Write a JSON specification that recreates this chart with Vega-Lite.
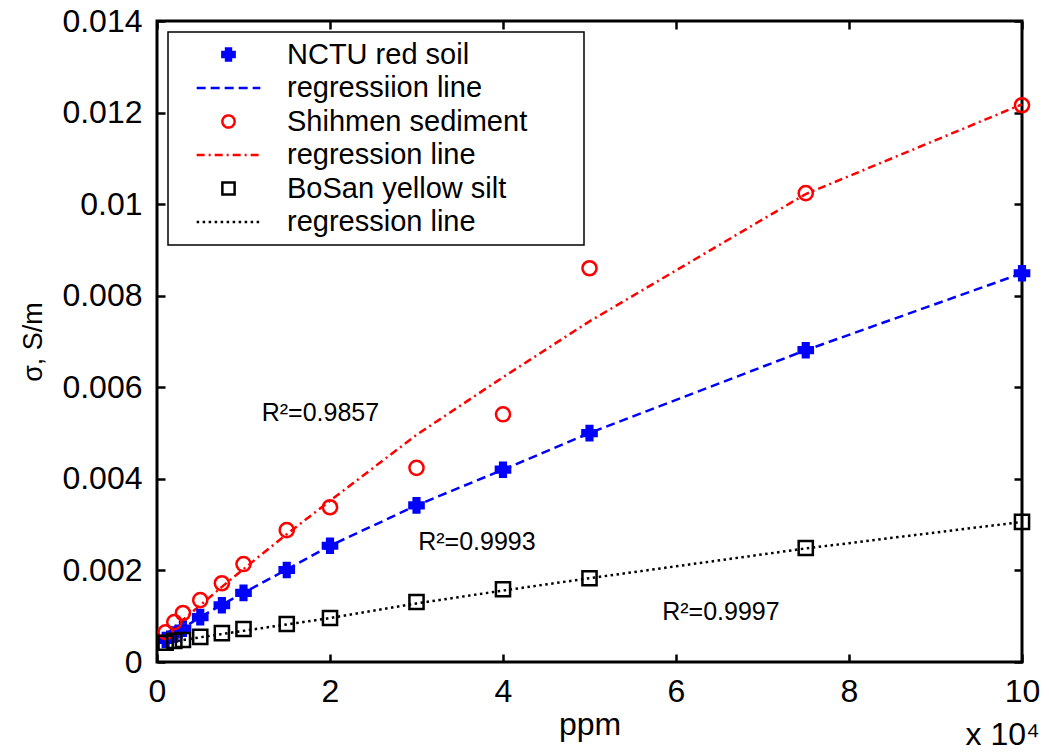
{
  "$schema": "https://vega.github.io/schema/vega-lite/v6.json",
  "width": 865,
  "height": 641,
  "autosize": "none",
  "padding": {"left": 157, "top": 21, "right": 27, "bottom": 91},
  "background": "white",
  "config": {
    "font": "Liberation Sans",
    "view": {"stroke": "black", "strokeWidth": 3},
    "axis": {
      "domain": false, "grid": false, "ticks": true, "tickSize": -8, "tickWidth": 2.5, "tickColor": "black",
      "labelFont": "Liberation Sans", "labelFontSize": 32, "labelColor": "black", "labelFlush": false,
      "titleFont": "Liberation Sans", "titleFontWeight": "normal", "titleColor": "black"
    },
    "legend": {
      "orient": "top-left", "offset": 11, "padding": 8,
      "strokeColor": "black", "strokeWidth": 1.5, "fillColor": "white",
      "labelFont": "Liberation Sans", "labelFontSize": 29, "labelColor": "black", "labelLimit": 600,
      "symbolSize": 150, "symbolStrokeWidth": 2.5, "symbolOffset": 38, "labelOffset": 44, "rowPadding": 3.5
    }
  },
  "title": {"text": "x 10⁴", "orient": "bottom", "anchor": "end", "fontSize": 32, "fontWeight": "normal", "font": "Liberation Sans", "color": "black", "offset": -20},
  "datasets": {
    "points": [
      {"ppm": 0.1, "sigma": 0.00048, "key": "NCTU red soil"},
      {"ppm": 0.2, "sigma": 0.00060, "key": "NCTU red soil"},
      {"ppm": 0.3, "sigma": 0.00073, "key": "NCTU red soil"},
      {"ppm": 0.5, "sigma": 0.00098, "key": "NCTU red soil"},
      {"ppm": 0.75, "sigma": 0.00124, "key": "NCTU red soil"},
      {"ppm": 1, "sigma": 0.00151, "key": "NCTU red soil"},
      {"ppm": 1.5, "sigma": 0.00201, "key": "NCTU red soil"},
      {"ppm": 2, "sigma": 0.00254, "key": "NCTU red soil"},
      {"ppm": 3, "sigma": 0.00342, "key": "NCTU red soil"},
      {"ppm": 4, "sigma": 0.00420, "key": "NCTU red soil"},
      {"ppm": 5, "sigma": 0.00500, "key": "NCTU red soil"},
      {"ppm": 7.5, "sigma": 0.00681, "key": "NCTU red soil"},
      {"ppm": 10, "sigma": 0.00849, "key": "NCTU red soil"},
      {"ppm": 0.1, "sigma": 0.00065, "key": "Shihmen sediment"},
      {"ppm": 0.2, "sigma": 0.00087, "key": "Shihmen sediment"},
      {"ppm": 0.3, "sigma": 0.00107, "key": "Shihmen sediment"},
      {"ppm": 0.5, "sigma": 0.00135, "key": "Shihmen sediment"},
      {"ppm": 0.75, "sigma": 0.00172, "key": "Shihmen sediment"},
      {"ppm": 1, "sigma": 0.00214, "key": "Shihmen sediment"},
      {"ppm": 1.5, "sigma": 0.00288, "key": "Shihmen sediment"},
      {"ppm": 2, "sigma": 0.00338, "key": "Shihmen sediment"},
      {"ppm": 3, "sigma": 0.00424, "key": "Shihmen sediment"},
      {"ppm": 4, "sigma": 0.00541, "key": "Shihmen sediment"},
      {"ppm": 5, "sigma": 0.00860, "key": "Shihmen sediment"},
      {"ppm": 7.5, "sigma": 0.01024, "key": "Shihmen sediment"},
      {"ppm": 10, "sigma": 0.01216, "key": "Shihmen sediment"},
      {"ppm": 0.1, "sigma": 0.00042, "key": "BoSan yellow silt"},
      {"ppm": 0.2, "sigma": 0.00046, "key": "BoSan yellow silt"},
      {"ppm": 0.3, "sigma": 0.00048, "key": "BoSan yellow silt"},
      {"ppm": 0.5, "sigma": 0.00055, "key": "BoSan yellow silt"},
      {"ppm": 0.75, "sigma": 0.00063, "key": "BoSan yellow silt"},
      {"ppm": 1, "sigma": 0.00072, "key": "BoSan yellow silt"},
      {"ppm": 1.5, "sigma": 0.00083, "key": "BoSan yellow silt"},
      {"ppm": 2, "sigma": 0.00096, "key": "BoSan yellow silt"},
      {"ppm": 3, "sigma": 0.00131, "key": "BoSan yellow silt"},
      {"ppm": 4, "sigma": 0.00159, "key": "BoSan yellow silt"},
      {"ppm": 5, "sigma": 0.00183, "key": "BoSan yellow silt"},
      {"ppm": 7.5, "sigma": 0.00249, "key": "BoSan yellow silt"},
      {"ppm": 10, "sigma": 0.00306, "key": "BoSan yellow silt"}
    ],
    "fits": [
      {"ppm": 0.1, "sigma": 0.00050, "key": "NCTU fit"},
      {"ppm": 0.2, "sigma": 0.00062, "key": "NCTU fit"},
      {"ppm": 0.3, "sigma": 0.00074, "key": "NCTU fit"},
      {"ppm": 0.5, "sigma": 0.00098, "key": "NCTU fit"},
      {"ppm": 0.75, "sigma": 0.00125, "key": "NCTU fit"},
      {"ppm": 1, "sigma": 0.00151, "key": "NCTU fit"},
      {"ppm": 1.5, "sigma": 0.00202, "key": "NCTU fit"},
      {"ppm": 2, "sigma": 0.00254, "key": "NCTU fit"},
      {"ppm": 3, "sigma": 0.00342, "key": "NCTU fit"},
      {"ppm": 4, "sigma": 0.00420, "key": "NCTU fit"},
      {"ppm": 5, "sigma": 0.00500, "key": "NCTU fit"},
      {"ppm": 7.5, "sigma": 0.00681, "key": "NCTU fit"},
      {"ppm": 10, "sigma": 0.00849, "key": "NCTU fit"},
      {"ppm": 0.1, "sigma": 0.00060, "key": "Shihmen fit"},
      {"ppm": 0.2, "sigma": 0.00076, "key": "Shihmen fit"},
      {"ppm": 0.3, "sigma": 0.00092, "key": "Shihmen fit"},
      {"ppm": 0.5, "sigma": 0.00124, "key": "Shihmen fit"},
      {"ppm": 0.75, "sigma": 0.00164, "key": "Shihmen fit"},
      {"ppm": 1, "sigma": 0.00203, "key": "Shihmen fit"},
      {"ppm": 1.5, "sigma": 0.00279, "key": "Shihmen fit"},
      {"ppm": 2, "sigma": 0.00352, "key": "Shihmen fit"},
      {"ppm": 3, "sigma": 0.00496, "key": "Shihmen fit"},
      {"ppm": 4, "sigma": 0.00622, "key": "Shihmen fit"},
      {"ppm": 5, "sigma": 0.00744, "key": "Shihmen fit"},
      {"ppm": 7.5, "sigma": 0.01022, "key": "Shihmen fit"},
      {"ppm": 10, "sigma": 0.01218, "key": "Shihmen fit"},
      {"ppm": 0.1, "sigma": 0.00043, "key": "BoSan fit"},
      {"ppm": 0.2, "sigma": 0.00045, "key": "BoSan fit"},
      {"ppm": 0.3, "sigma": 0.00048, "key": "BoSan fit"},
      {"ppm": 0.5, "sigma": 0.00054, "key": "BoSan fit"},
      {"ppm": 0.75, "sigma": 0.00061, "key": "BoSan fit"},
      {"ppm": 1, "sigma": 0.00068, "key": "BoSan fit"},
      {"ppm": 1.5, "sigma": 0.00082, "key": "BoSan fit"},
      {"ppm": 2, "sigma": 0.00096, "key": "BoSan fit"},
      {"ppm": 3, "sigma": 0.00128, "key": "BoSan fit"},
      {"ppm": 4, "sigma": 0.00156, "key": "BoSan fit"},
      {"ppm": 5, "sigma": 0.00183, "key": "BoSan fit"},
      {"ppm": 7.5, "sigma": 0.00248, "key": "BoSan fit"},
      {"ppm": 10, "sigma": 0.00306, "key": "BoSan fit"}
    ],
    "notes": [
      {"ppm": 1.21, "sigma": 0.00544, "text": "R²=0.9857"},
      {"ppm": 3.02, "sigma": 0.00262, "text": "R²=0.9993"},
      {"ppm": 5.84, "sigma": 0.00109, "text": "R²=0.9997"}
    ]
  },
  "layer": [
    {
      "data": {"name": "fits"},
      "mark": {"type": "line", "strokeWidth": 2.5},
      "encoding": {
        "x": {"field": "ppm", "type": "quantitative", "scale": {"domain": [0, 10], "nice": false},
              "axis": {"orient": "bottom", "values": [0, 2, 4, 6, 8, 10], "title": "ppm", "titleFontSize": 32, "labelPadding": 22, "titlePadding": 2}},
        "y": {"field": "sigma", "type": "quantitative", "scale": {"domain": [0, 0.014], "nice": false},
              "axis": {"orient": "left", "values": [0, 0.002, 0.004, 0.006, 0.008, 0.01, 0.012, 0.014], "format": ".3~f", "title": "σ, S/m", "titleFontSize": 27, "labelPadding": 23, "titlePadding": 14}},
        "stroke": {"field": "key", "type": "nominal",
          "scale": {"domain": ["NCTU red soil", "NCTU fit", "Shihmen sediment", "Shihmen fit", "BoSan yellow silt", "BoSan fit"],
                    "range": ["#0000ff", "#0000ff", "#ff0000", "#ff0000", "#000000", "#000000"]},
          "legend": {"title": null, "labelExpr": "datum.label == 'NCTU fit' ? 'regressiion line' : (datum.label == 'Shihmen fit' || datum.label == 'BoSan fit') ? 'regression line' : datum.label == 'NCTU red soil' ? 'NCTU red  soil' : datum.label == 'BoSan yellow silt' ? 'BoSan yellow  silt' : 'Shihmen sediment\u00a0\u00a0\u00a0\u00a0\u00a0\u00a0\u200b'"}},
        "strokeDash": {"field": "key", "type": "nominal",
          "scale": {"domain": ["NCTU red soil", "NCTU fit", "Shihmen sediment", "Shihmen fit", "BoSan yellow silt", "BoSan fit"],
                    "range": [[1, 0], [9, 5], [1, 0], [8, 4, 2, 4], [1, 0], [2.5, 3.5]]},
          "legend": {"title": null, "labelExpr": "datum.label == 'NCTU fit' ? 'regressiion line' : (datum.label == 'Shihmen fit' || datum.label == 'BoSan fit') ? 'regression line' : datum.label == 'NCTU red soil' ? 'NCTU red  soil' : datum.label == 'BoSan yellow silt' ? 'BoSan yellow  silt' : 'Shihmen sediment\u00a0\u00a0\u00a0\u00a0\u00a0\u00a0\u200b'"}}
      }
    },
    {
      "data": {"name": "points"},
      "mark": {"type": "point", "filled": true, "strokeWidth": 2.5, "size": 200, "opacity": 1},
      "encoding": {
        "x": {"field": "ppm", "type": "quantitative", "axis": {"orient": "top", "values": [0, 2, 4, 6, 8, 10], "labels": false, "title": null}},
        "y": {"field": "sigma", "type": "quantitative", "axis": {"orient": "right", "values": [0, 0.002, 0.004, 0.006, 0.008, 0.01, 0.012, 0.014], "labels": false, "title": null}},
        "stroke": {"field": "key", "type": "nominal",
          "legend": {"title": null, "labelExpr": "datum.label == 'NCTU fit' ? 'regressiion line' : (datum.label == 'Shihmen fit' || datum.label == 'BoSan fit') ? 'regression line' : datum.label == 'NCTU red soil' ? 'NCTU red  soil' : datum.label == 'BoSan yellow silt' ? 'BoSan yellow  silt' : 'Shihmen sediment\u00a0\u00a0\u00a0\u00a0\u00a0\u00a0\u200b'"}},
        "fill": {"field": "key", "type": "nominal",
          "scale": {"domain": ["NCTU red soil", "NCTU fit", "Shihmen sediment", "Shihmen fit", "BoSan yellow silt", "BoSan fit"],
                    "range": ["#0000ff", "transparent", "transparent", "transparent", "transparent", "transparent"]},
          "legend": {"title": null, "labelExpr": "datum.label == 'NCTU fit' ? 'regressiion line' : (datum.label == 'Shihmen fit' || datum.label == 'BoSan fit') ? 'regression line' : datum.label == 'NCTU red soil' ? 'NCTU red  soil' : datum.label == 'BoSan yellow silt' ? 'BoSan yellow  silt' : 'Shihmen sediment\u00a0\u00a0\u00a0\u00a0\u00a0\u00a0\u200b'"}},
        "shape": {"field": "key", "type": "nominal",
          "scale": {"domain": ["NCTU red soil", "NCTU fit", "Shihmen sediment", "Shihmen fit", "BoSan yellow silt", "BoSan fit"],
                    "range": ["cross", "M-5.2,0H5.2", "circle", "M-5.2,0H5.2", "square", "M-5.2,0H5.2"]},
          "legend": {"title": null, "labelExpr": "datum.label == 'NCTU fit' ? 'regressiion line' : (datum.label == 'Shihmen fit' || datum.label == 'BoSan fit') ? 'regression line' : datum.label == 'NCTU red soil' ? 'NCTU red  soil' : datum.label == 'BoSan yellow silt' ? 'BoSan yellow  silt' : 'Shihmen sediment\u00a0\u00a0\u00a0\u00a0\u00a0\u00a0\u200b'"}}
      }
    },
    {
      "data": {"name": "notes"},
      "mark": {"type": "text", "align": "left", "baseline": "middle", "fontSize": 25, "font": "Liberation Sans", "color": "black"},
      "encoding": {
        "x": {"field": "ppm", "type": "quantitative", "axis": null},
        "y": {"field": "sigma", "type": "quantitative", "axis": null},
        "text": {"field": "text", "type": "nominal"}
      }
    }
  ],
  "resolve": {"axis": {"x": "independent", "y": "independent"}}
}
